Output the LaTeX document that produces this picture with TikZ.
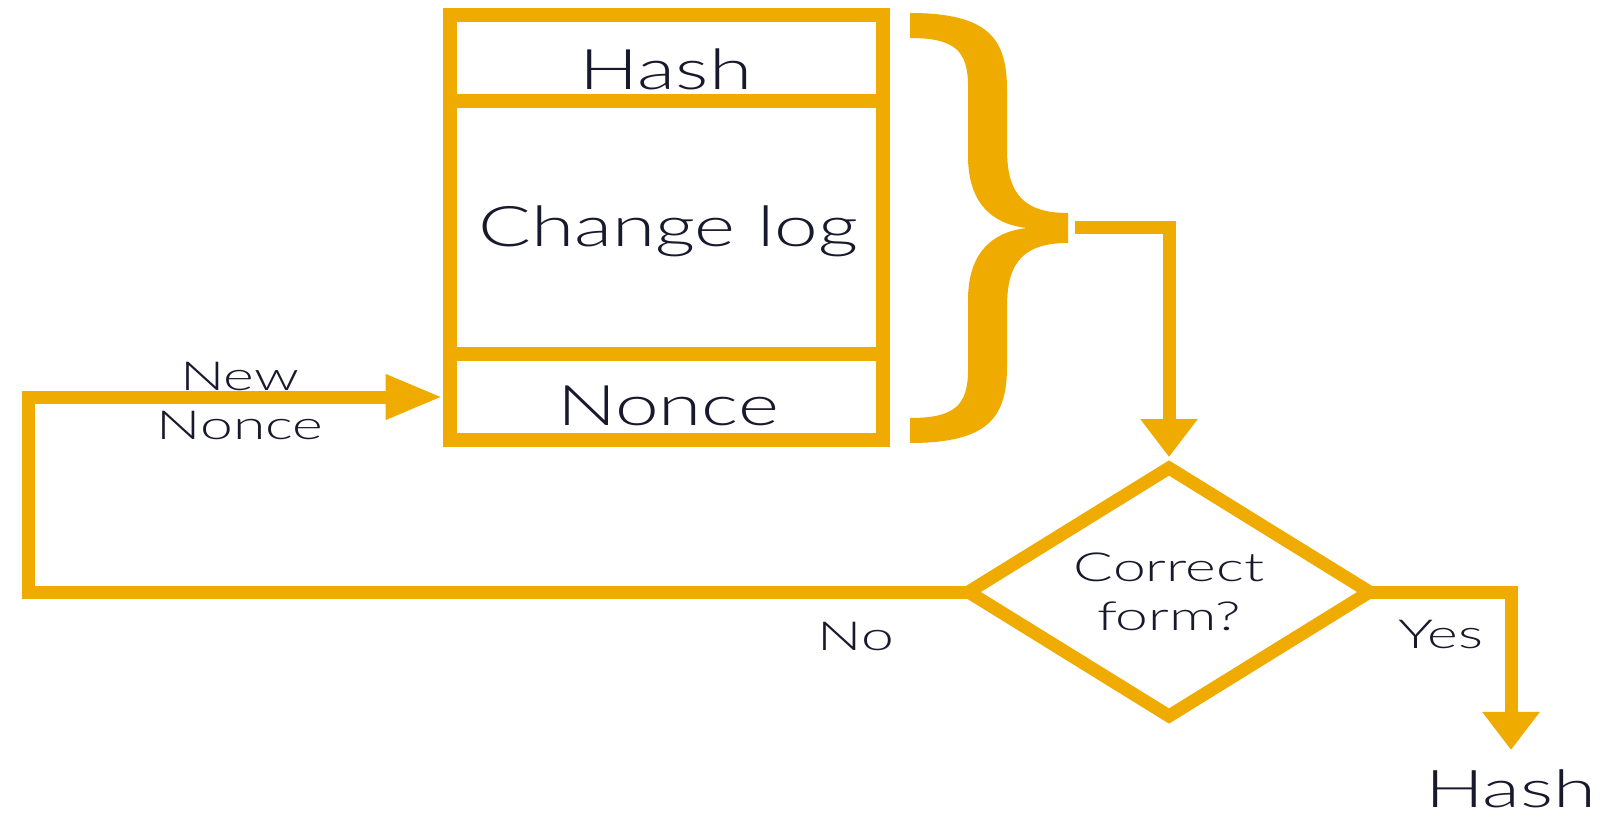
\documentclass[tikz,border=0pt]{standalone}
\usepackage{fontspec}
\setmainfont{Lato}
\newfontfamily\bigfam{Lato Light}[FakeStretch=1.4]
\newfontfamily\smallfam{Lato Light}[FakeStretch=1.47]
\newfontfamily\outfam{Lato Light}[FakeStretch=1.5]
\usetikzlibrary{shapes.geometric,arrows.meta}
\definecolor{gold}{RGB}{239,171,0}
\definecolor{ink}{RGB}{25,25,45}
\begin{document}
\begin{tikzpicture}[x=1pt,y=-1pt,
  cell/.style={draw=gold,line width=14pt,minimum width=433.5pt,inner sep=0pt},
  wire/.style={draw=gold,line width=13pt},
  bigtxt/.style={font=\bigfam\fontsize{56}{60}\selectfont,text=ink,inner sep=0pt},
  smalltxt/.style={font=\smallfam\fontsize{40}{49}\selectfont,text=ink,align=center,inner sep=0pt},
  tipA/.style={-{Triangle[length=38pt,width=55pt]}},
  tipB/.style={-{Triangle[length=57pt,width=42pt]}},
]
\useasboundingbox (0,0) rectangle (1606,818);

% stacked block
\node[cell,minimum height=86.5pt] (hashcell) at (666.25,58.25) {};
\node[cell,minimum height=252.5pt] (logcell) at (666.25,227.75) {};
\node[cell,minimum height=86pt] (noncecell) at (666.25,397) {};
\node[bigtxt,anchor=base] (hashtxt) at (666,90) {Hash};
\node[bigtxt,anchor=base] (logtxt) at (668,247) {Change log};
\node[bigtxt,anchor=base] (noncetxt) at (668,425) {Nonce};

% brace
\fill[gold] (910,13) .. controls (990,13) and (1007,40) .. (1007,90)
  -- (1007,150) .. controls (1007,195) and (1025,213) .. (1068,213)
  -- (1068,243) .. controls (1025,243) and (1007,261) .. (1007,306)
  -- (1007,366) .. controls (1007,416) and (990,443) .. (910,443)
  -- (910,418) .. controls (955,418) and (968,405) .. (968,370)
  -- (968,300) .. controls (968,255) and (990,232) .. (1027,228)
  .. controls (990,224) and (968,201) .. (968,156)
  -- (968,86) .. controls (968,51) and (955,38) .. (910,38) -- cycle;
\coordinate (bt) at (1075,228);

% decision
\node[diamond,draw=gold,line width=13pt,minimum width=401pt,minimum height=248pt,
      aspect=1.617,outer sep=0pt,smalltxt] (dia) at (1169,592) {Correct\\form?};

% output
\node[font=\outfam\fontsize{52}{56}\selectfont,text=ink,inner sep=0pt,anchor=base] (hashout) at (1511,807) {Hash};

% connectors
\coordinate (lc) at (28,397);
\draw[wire,tipA,shorten >=11pt] (bt) -| (dia.north);
\draw[wire,tipB] (dia.west) -| (lc) -- (noncecell.west);
\draw[wire,tipA,shorten >=19pt] (dia.east) -| (hashout.north);

% labels
\node[smalltxt,anchor=north] (newnonce) at (240,362) {New\\Nonce};
\node[smalltxt,anchor=base] (nolbl) at (856,650) {No};
\node[smalltxt,anchor=base] (yeslbl) at (1441,648) {Yes};
\end{tikzpicture}
\end{document}
